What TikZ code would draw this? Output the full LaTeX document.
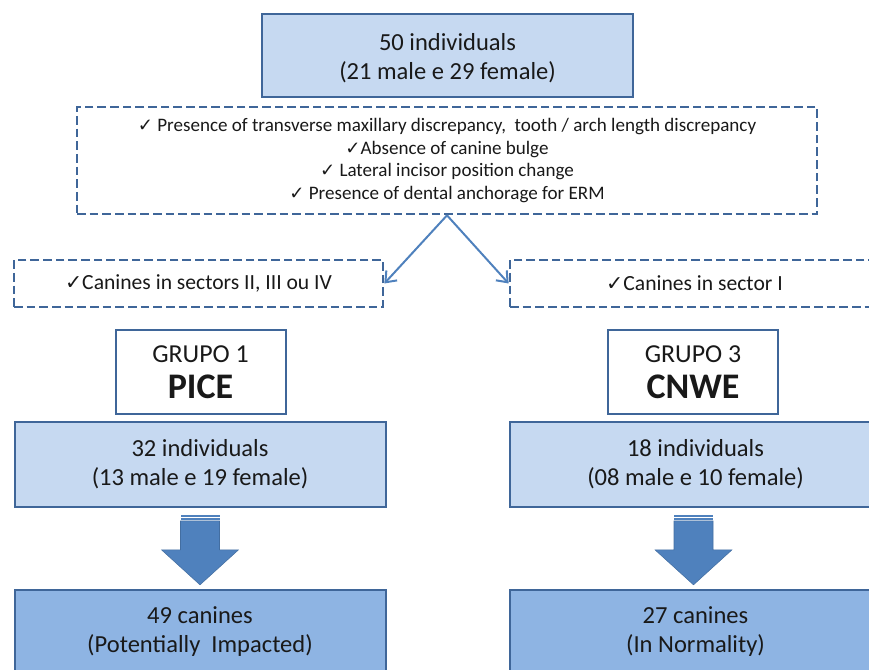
\documentclass[tikz,border=0pt]{standalone}
\usepackage{fontspec}
\setmainfont{Carlito}
\newfontfamily\symfont{DejaVu Sans}
\usepackage{tikz}
\usetikzlibrary{arrows.meta,positioning}
\definecolor{lightfill}{HTML}{C6D9F1}
\definecolor{darkfill}{HTML}{8EB4E3}
\definecolor{edgeblue}{HTML}{3F6699}
\definecolor{arrowblue}{HTML}{4F81BD}
\newcommand{\chk}{{\symfont\scalebox{0.95}{✓}}}

\begin{document}
\begin{tikzpicture}[x=0.75pt, y=-0.75pt, line width=1.5pt]
\useasboundingbox (0,0) rectangle (869,670);
\clip (0,0) rectangle (869,670);
\tikzstyle{every node} = [draw=edgeblue, line width=1.5pt, align=center, inner sep=0pt, text=black!90]
\tikzstyle{countbox} = [fill=lightfill, minimum width=278.25pt, minimum height=63.5pt, font=\fontsize{18.4pt}{21.75pt}\selectfont]
\tikzstyle{caninebox} = [countbox, fill=darkfill]
\tikzstyle{critbox} = [dash pattern=on 6.5pt off 3pt, line width=2pt, minimum height=35.25pt, font=\fontsize{14.3pt}{16.9pt}\selectfont]
\tikzstyle{groupbox} = [fill=white, minimum width=127.5pt, minimum height=63pt, font=\fontsize{19.4pt}{27pt}\selectfont]
\node[countbox, minimum height=62.25pt, text depth=0pt] (all) at (447.5,56) {50 individuals\\(21 male e 29 female)};
\node[critbox, minimum width=555pt, minimum height=80.25pt] (crit) at (447,160.5)
	{\chk{} Presence of transverse maxillary discrepancy,~ tooth / arch length discrepancy\\
	\chk Absence of canine bulge\\
	\chk{} Lateral incisor position change\\
	\chk{} Presence of dental anchorage for ERM};
\node[critbox, minimum width=276.75pt, font=\fontsize{16.2pt}{19pt}\selectfont] (sl) at (198.5,283.5) {\chk Canines in sectors II, III ou IV};
\node[critbox, minimum width=276.75pt, font=\fontsize{16.2pt}{19pt}\selectfont] (sr) at (694.5,283.5) {\chk Canines in sector I};
\node[groupbox] (g1) at (200.5,372) {GRUPO 1\\{\fontsize{27pt}{27pt}\selectfont\bfseries PICE}};
\node[groupbox] (g3) at (693,372) {GRUPO 3\\{\fontsize{27pt}{27pt}\selectfont\bfseries CNWE}};
\node[countbox] (n1) at (200,464.5) {32 individuals\\(13 male e 19 female)};
\node[countbox] (n3) at (695.5,464.5) {18 individuals\\(08 male e 10 female)};
\node[caninebox] (c1) at (200,632) {49 canines\\(Potentially~ Impacted)};
\node[caninebox] (c3) at (695.5,632) {27 canines\\(In Normality)};
\draw[-{Straight Barb[length=7pt,width=11pt]}, arrowblue] (crit.south) -- (sl.east);
\draw[-{Straight Barb[length=7pt,width=11pt]}, arrowblue] (crit.south) -- (sr.west);
% block arrows
\fill[arrowblue] (n1.south) ++(-19.5,7) rectangle ++(39,2);
\fill[arrowblue] (n1.south) ++(-19.5,10.5) rectangle ++(39,1.5);
\filldraw[arrowblue, draw=arrowblue!85!black, line width=0.4pt] (n1.south) ++(-19.5,13) -- ++(39,0) -- ++(0,29)
	-- ++(19,0) -- ++(-38.5,35) -- ++(-38.5,-35) -- ++(19,0) -- cycle;
\fill[arrowblue] (n3.south) ++(-21.5,7) rectangle ++(39,2);
\fill[arrowblue] (n3.south) ++(-21.5,10.5) rectangle ++(39,1.5);
\filldraw[arrowblue, draw=arrowblue!85!black, line width=0.4pt] (n3.south) ++(-21.5,13) -- ++(39,0) -- ++(0,29)
	-- ++(19,0) -- ++(-38.5,35) -- ++(-38.5,-35) -- ++(19,0) -- cycle;
\end{tikzpicture}
\end{document}
